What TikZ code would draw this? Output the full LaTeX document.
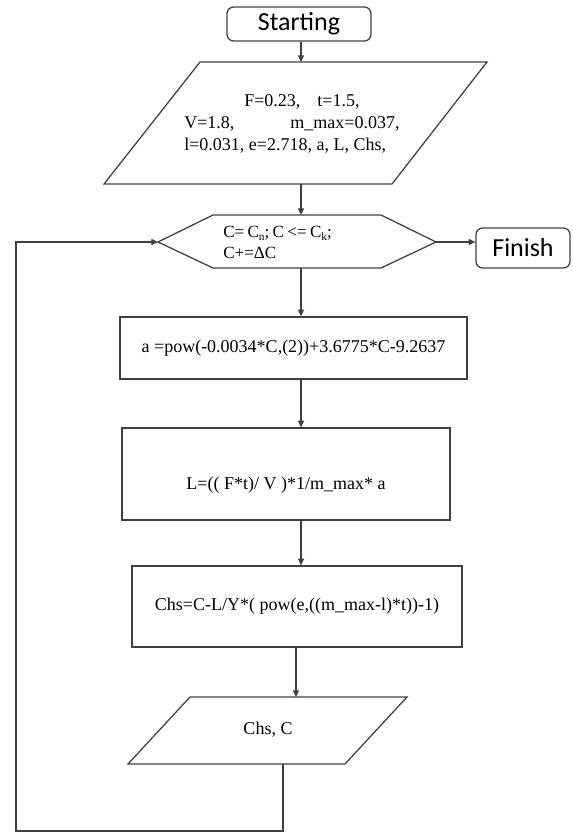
\documentclass[tikz,border=0pt]{standalone}
\usepackage{fontspec}
\setmainfont{Liberation Serif}
\newfontfamily\calib{Carlito}
\usetikzlibrary{arrows.meta,calc}
\newcommand{\lowsub}[1]{\raisebox{-2.2pt}{\fontsize{8.5}{9}\selectfont #1}}
\begin{document}
\begin{tikzpicture}[x=0.75pt,y=-0.75pt,
  ln/.style={draw=black!75, line width=0.95pt},
  arr/.style={ln, -{Triangle[length=5pt,width=4.5pt]}},
  term/.style={ln, rounded corners=5pt, inner sep=0pt, font=\calib\fontsize{19.5}{22}\selectfont},
  proc/.style={ln, rectangle, inner sep=0pt, font=\fontsize{13.5}{16}\selectfont},
  txt/.style={inner sep=0pt, font=\fontsize{13.5}{16}\selectfont}]
\useasboundingbox (0,0) rectangle (572,834);
\coordinate (spine) at (301,0);
% terminal start
\node[term, minimum width=108pt, minimum height=25.5pt] (start) at (299,24) {Starting};
% input parallelogram
\coordinate (p1tl) at (200,62);
\coordinate (p1tr) at (487,62);
\coordinate (p1br) at (392,184);
\coordinate (p1bl) at (104,184);
\draw[ln] (p1tl) -- (p1tr) -- (p1br) -- (p1bl) -- cycle;
\node[txt, anchor=west, align=left, font=\fontsize{13.5}{16.5}\selectfont] (p1txt) at (184,124)
  {\hspace*{45pt}F=0.23,\hspace{12.75pt}t=1.5,\\
   V=1.8,\hspace{42pt}m\_max=0.037,\\
   l=0.031, e=2.718, a, L, Chs,};
% loop hexagon
\coordinate (hl) at (158,242);
\coordinate (htl) at (213,215);
\coordinate (htr) at (381,215);
\coordinate (hr) at (436,242);
\coordinate (hbr) at (381,268);
\coordinate (hbl) at (213,268);
\draw[ln] (hl) -- (htl) -- (htr) -- (hr) -- (hbr) -- (hbl) -- cycle;
\node[txt, anchor=west, align=left, font=\fontsize{12.8}{15.75}\selectfont] (htxt) at (223,242)
  {C=\hspace{2.5pt}C\lowsub{n};\hspace{2.5pt}C\hspace{2.5pt}<=\hspace{2.5pt}C\lowsub{k};\\ C+=ΔC};
% finish
\node[term, minimum width=70.5pt, minimum height=30pt] (finish) at (523,248) {Finish};
% process boxes
\node[proc, minimum width=260.25pt, minimum height=46.5pt] (boxa) at (293.5,348)
  {a =pow(-0.0034*C,(2))+3.6775*C-9.2637};
\node[proc, minimum width=246pt, minimum height=69pt] (boxl) at (286,474) {};
\node[txt] (ltxt) at (286,485) {L=(( F*t)/ V )*1/m\_max* a};
\node[proc, minimum width=247.5pt, minimum height=60.75pt] (boxc) at (297,606.5)
  {Chs=C-L/Y*( pow(e,((m\_max-l)*t))-1)};
% output parallelogram
\coordinate (p2tl) at (190,697);
\coordinate (p2tr) at (407,697);
\coordinate (p2br) at (345,764);
\coordinate (p2bl) at (128,764);
\draw[ln] (p2tl) -- (p2tr) -- (p2br) -- (p2bl) -- cycle;
\node[txt] (p2txt) at (268,730) {Chs, C};
\coordinate (p2in) at (296,697);
\coordinate (p2out) at (283,764);
\coordinate (lc) at (16,831);
% connectors
\draw[arr] (start.south -| spine) -- (p1tl -| spine);
\draw[arr] (p1bl -| spine) -- (htl -| spine);
\draw[arr] (hr) -- (hr -| finish.west);
\draw[arr] (hbl -| spine) -- (boxa.north -| spine);
\draw[arr] (boxa.south -| spine) -- (boxl.north -| spine);
\draw[arr] (boxl.south -| spine) -- (boxc.north -| spine);
\draw[arr] (boxc.south -| p2in) -- (p2in);
\draw[arr] (p2out) |- (lc) |- (hl);
\end{tikzpicture}
\end{document}
